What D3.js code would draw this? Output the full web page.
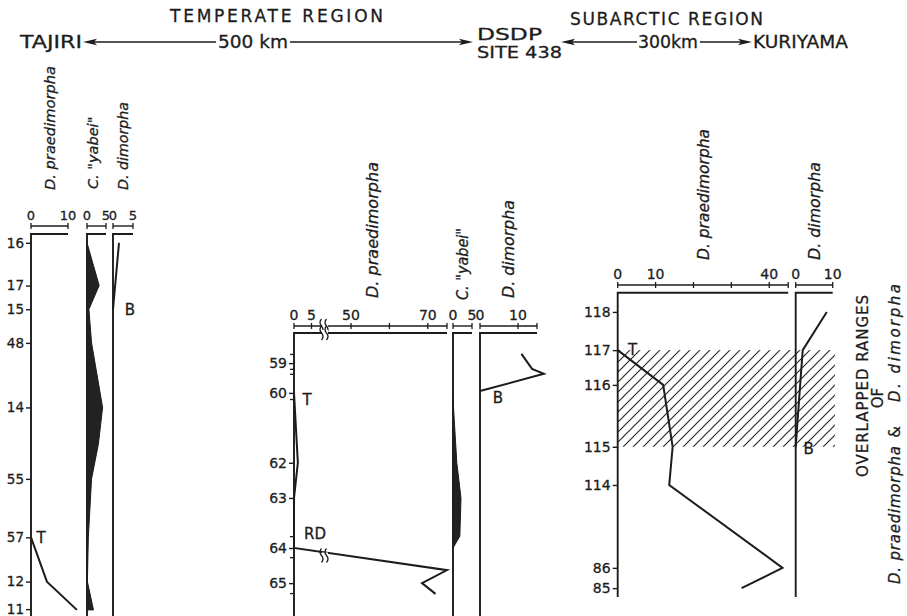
<!DOCTYPE html>
<html lang="en">
<head>
<meta charset="UTF-8">
<title>Overlapped ranges of D. praedimorpha and D. dimorpha</title>
<script src="https://cdnjs.cloudflare.com/ajax/libs/d3/7.8.5/d3.min.js"></script>
<style>
  body { margin: 0; background: #fff; }
  svg { display: block; }
  text { font-family: "DejaVu Sans", sans-serif; fill: #1c1c1c; stroke: #1c1c1c; stroke-width: 0.3px; }
  .sp { font-style: italic; }
</style>
</head>
<body>
<div id="chart"></div>
<script>
// stratigraphic position of each sample, 0 = top of column, 100 = bottom of figure
// Tajiri section (temperate region)
const tajiriSamples = ["16", "17", "15", "48", "14", "55", "57", "12", "11"];
const tajiriLevels = [2.3, 13.5, 19.7, 28.5, 45.4, 64.1, 79.4, 91.0, 98.2];
const tajiriPraedimorpha = [[79.4, 0], [91.0, 4.3], [98.4, 12.4]];
const tajiriYabei = [[2.3, 0], [13.5, 3.2], [19.7, 0.5], [28.5, 1.2], [45.4, 4.1],
                     [55.0, 3.0], [64.1, 1.2], [79.4, 0.35], [91.0, 0.1], [98.4, 1.7]];
const tajiriDimorpha = [[2.3, 1.5], [19.7, 0]];

// DSDP Site 438
const dsdpSamples = ["59", "60", "62", "63", "64", "65"];
const dsdpLevels = [33.8, 41.6, 59.9, 69.1, 82.2, 91.4];
const dsdpMinorLevels = [31.4, 35.3, 36.6, 43.2, 79.1, 84.6, 94.0];
const dsdpPraedimorpha = [[41.6, 0], [59.9, 1.1], [69.1, 0], [82.2, 0], [88.0, 75], [91.4, 68.5], [94.2, 72]];
const dsdpYabei = [[43.2, 0], [59.9, 1.0], [69.1, 2.1], [79.1, 1.8], [82.2, 0]];
const dsdpDimorpha = [[31.4, 10.9], [35.3, 13.7], [36.6, 16.8], [41.1, 0]];

// Kuriyama section (subarctic region)
const kuriSamples = ["118", "117", "116", "115", "114", "86", "85"];
const kuriLevels = [20.4, 30.4, 39.5, 55.7, 65.7, 87.4, 92.7];
const kuriPraedimorpha = [[30.4, 0], [39.5, 12.0], [55.7, 14.5], [65.7, 13.6], [87.4, 43.5], [92.7, 32.7]];
const kuriDimorpha = [[20.4, 8.4], [30.4, 1.9], [39.5, 1.2], [55.7, 0]];
const overlapRange = [30.4, 55.7];

const ink = "#1c1c1c";
const width = 907, height = 616;

const svg = d3.select("#chart").append("svg")
    .attr("width", width)
    .attr("height", height);
svg.append("rect").attr("width", width).attr("height", height).attr("fill", "#fff");

const y = d3.scaleLinear().domain([0, 100]).range([234, 616]);

svg.append("defs").append("pattern")
    .attr("id", "hatch")
    .attr("patternUnits", "userSpaceOnUse")
    .attr("width", 10).attr("height", 10)
    .append("path")
    .attr("d", "M-1,1 l2,-2 M0,10 l10,-10 M9,11 l2,-2")
    .attr("stroke", "#2a2a2a").attr("stroke-width", 1.2);

// ---- header ----
function label(txt, x, yy, size, len, adjust) {
    const t = svg.append("text").attr("x", x).attr("y", yy).attr("font-size", size).text(txt);
    if (len) t.attr("textLength", len).attr("lengthAdjust", adjust || "spacingAndGlyphs");
    return t;
}
function arrow(xFrom, xTo, yy) {
    const dir = xTo > xFrom ? 1 : -1;
    svg.append("line").attr("x1", xFrom).attr("x2", xTo - dir * 4).attr("y1", yy).attr("y2", yy)
        .attr("stroke", ink).attr("stroke-width", 1.6);
    svg.append("path")
        .attr("d", `M${xTo},${yy}L${xTo - dir * 14},${yy - 3.2}L${xTo - dir * 11},${yy}L${xTo - dir * 14},${yy + 3.2}Z`)
        .attr("fill", ink);
}
label("TEMPERATE REGION", 170, 22, 17, 213, "spacing");
label("SUBARCTIC REGION", 570, 25, 17, 193, "spacing");
label("TAJIRI", 20, 48, 17.5, 62);
label("500 km", 218, 48, 17.5, 70);
label("DSDP", 477, 40, 16.5, 65);
label("SITE 438", 477, 58, 16.5, 85);
label("300km", 638, 48, 17.5, 60);
label("KURIYAMA", 753, 48, 17.5, 95);
arrow(216, 83, 42);
arrow(290, 473, 42);
arrow(637, 561, 42);
arrow(700, 752, 42);

// ---- columns ----
function breakMark(g, cx, cy) {
    g.append("rect").attr("x", cx - 3).attr("y", cy - 3).attr("width", 6).attr("height", 6).attr("fill", "#fff");
    [-2.5, 2.5].forEach(off => {
        g.append("path")
            .attr("d", `M${cx + off - 1},${cy - 7} q-3,3.5 0,7 q3,3.5 0,7`)
            .attr("fill", "none").attr("stroke", ink).attr("stroke-width", 1.3);
    });
}

function column(c) {
    const x = d3.scaleLinear().domain(c.domain).range(c.range);
    const g = svg.append("g");
    const x0 = x(0), x1 = x(c.end);

    // scale bar
    g.append("line").attr("x1", x0).attr("x2", x1).attr("y1", c.barY).attr("y2", c.barY)
        .attr("stroke", ink).attr("stroke-width", 1.4);
    g.selectAll("line.tk").data(c.ticks).join("line").attr("class", "tk")
        .attr("x1", d => x(d)).attr("x2", d => x(d))
        .attr("y1", c.barY - 3).attr("y2", c.barY + 3)
        .attr("stroke", ink).attr("stroke-width", 1.3);
    g.selectAll("text.tl").data(c.labels).join("text").attr("class", "tl")
        .attr("x", d => x(d)).attr("y", c.barY - 6)
        .attr("text-anchor", "middle").attr("font-size", c.fs)
        .text(d => d);

    // header line and vertical base line
    g.append("path").attr("d", `M${x1},${c.headY}H${x0}V${y(c.bottom)}`)
        .attr("fill", "none").attr("stroke", ink).attr("stroke-width", 1.9);

    // rotated species title
    const t = g.append("text").attr("class", "sp")
        .attr("transform", `translate(${c.titleX != null ? c.titleX : (x0 + x1) / 2},${c.titleY}) rotate(-90)`)
        .attr("dy", "0.35em").attr("font-size", c.titleSize)
        .text(c.title);
    if (c.titleLen) t.attr("textLength", c.titleLen).attr("lengthAdjust", "spacingAndGlyphs");

    // abundance
    if (c.area) {
        g.append("path").datum(c.data)
            .attr("d", d3.area().y(d => y(d[0])).x0(x0).x1(d => x(d[1])))
            .attr("fill", "#222").attr("stroke", ink).attr("stroke-width", 1);
    } else {
        g.append("path").datum(c.data)
            .attr("d", d3.line().x(d => x(d[1])).y(d => y(d[0])))
            .attr("fill", "none").attr("stroke", ink).attr("stroke-width", 2)
            .attr("stroke-linejoin", "miter");
    }

    if (c.breakX) {
        breakMark(g, c.breakX, c.barY);
        breakMark(g, c.breakX, c.headY);
        // where the data line crosses the break
        for (let i = 1; i < c.data.length; i++) {
            const xa = x(c.data[i - 1][1]), xb = x(c.data[i][1]);
            if ((xa - c.breakX) * (xb - c.breakX) < 0) {
                const f = (c.breakX - xa) / (xb - xa);
                const yy = y(c.data[i - 1][0]) + f * (y(c.data[i][0]) - y(c.data[i - 1][0]));
                breakMark(g, c.breakX, yy + 3);
            }
        }
    }
    return x;
}

function sampleAxis(xPos, samples, levels, minor, fs) {
    const g = svg.append("g").attr("transform", `translate(${xPos},0)`)
        .call(d3.axisLeft(y).tickValues(levels).tickFormat((d, i) => samples[i]).tickSize(5).tickPadding(2));
    g.select(".domain").remove();
    g.attr("font-size", fs);
    g.selectAll("line").attr("stroke", ink).attr("stroke-width", 1.4);
    if (minor.length) {
        const m = svg.append("g").attr("transform", `translate(${xPos},0)`)
            .call(d3.axisLeft(y).tickValues(minor).tickFormat("").tickSize(4));
        m.select(".domain").remove();
        m.selectAll("line").attr("stroke", ink).attr("stroke-width", 1.3);
    }
}

function marker(txt, x, yy, size) {
    svg.append("text").attr("x", x).attr("y", yy).attr("dy", "0.35em")
        .attr("text-anchor", "middle").attr("font-size", size).text(txt);
}

// Tajiri
const tP = column({ domain: [0, 10], range: [31, 68], end: 10, ticks: [0, 10], labels: [0, 10], fs: 13,
    barY: 226, headY: 234, bottom: 100, title: "D. praedimorpha", titleY: 190, titleSize: 14.5, titleLen: 124,
    data: tajiriPraedimorpha });
column({ domain: [0, 5], range: [87, 106], end: 5, ticks: [0, 5], labels: [0, 5], fs: 13,
    barY: 226, headY: 234, bottom: 100, title: "C. \"yabei\"", titleX: 93, titleY: 189, titleSize: 14.5,
    data: tajiriYabei, area: true });
const tD = column({ domain: [0, 5], range: [113, 133], end: 5, ticks: [0, 5], labels: [0, 5], fs: 13,
    barY: 226, headY: 234, bottom: 100, title: "D. dimorpha", titleY: 190, titleSize: 14.5, titleLen: 88,
    data: tajiriDimorpha });
sampleAxis(tP(0), tajiriSamples, tajiriLevels, [], 13.5);
marker("T", tP(0) + 10, y(79.4), 15);
marker("B", tD(0) + 17, y(19.7), 15);

// DSDP Site 438
const dP = column({ domain: [0, 5, 50, 75], range: [294, 311.5, 351, 447], end: 75, ticks: [0, 5, 50, 60, 70, 75],
    labels: [0, 5, 50, 70], fs: 14, barY: 326, headY: 333, bottom: 100, breakX: 325,
    title: "D. praedimorpha", titleX: 372, titleY: 298, titleSize: 16, titleLen: 136,
    data: dsdpPraedimorpha });
column({ domain: [0, 5], range: [453, 472], end: 5, ticks: [0, 5], labels: [0, 5], fs: 14,
    barY: 326, headY: 333, bottom: 100, title: "C. \"yabei\"", titleY: 300, titleSize: 16, titleLen: 72,
    data: dsdpYabei, area: true });
const dD = column({ domain: [0, 15], range: [480, 537], end: 15, ticks: [0, 10, 15], labels: [0, 10], fs: 14,
    barY: 326, headY: 333, bottom: 100, title: "D. dimorpha", titleY: 298, titleSize: 16, titleLen: 98,
    data: dsdpDimorpha });
sampleAxis(dP(0), dsdpSamples, dsdpLevels, dsdpMinorLevels, 14);
marker("T", dP(0) + 13, y(41.6) + 7, 15);
marker("RD", dP(0) + 21, y(82.2) - 14, 15);
marker("B", dD(0) + 18, y(41.1) + 7, 15);

// Kuriyama - hatched overlap first so lines sit on top
const kP0 = d3.scaleLinear().domain([0, 45]).range([617.7, 788.2]);
const kD0 = d3.scaleLinear().domain([0, 10]).range([795.7, 832.7]);
svg.append("rect")
    .attr("x", kP0(0)).attr("y", y(overlapRange[0]))
    .attr("width", kD0(10.6) - kP0(0)).attr("height", y(overlapRange[1]) - y(overlapRange[0]))
    .attr("fill", "url(#hatch)");
const kP = column({ domain: [0, 45], range: [617.7, 788.2], end: 45, ticks: [0, 10, 20, 30, 40, 45],
    labels: [0, 10, 40], fs: 14, barY: 285, headY: 292.7, bottom: 95,
    title: "D. praedimorpha", titleY: 260, titleSize: 16, titleLen: 131,
    data: kuriPraedimorpha });
const kD = column({ domain: [0, 10], range: [795.7, 832.7], end: 10, ticks: [0, 10], labels: [0, 10], fs: 14,
    barY: 285, headY: 292.7, bottom: 95, title: "D. dimorpha", titleY: 260, titleSize: 16, titleLen: 98,
    data: kuriDimorpha });
sampleAxis(kP(0), kuriSamples, kuriLevels, [], 14);
marker("T", kP(0) + 15, y(30.4), 15);
marker("B", kD(0) + 13, y(55.7) + 2, 15);

// note on the right
function vtext(txt, x, yy, size, len, italic) {
    const t = svg.append("text")
        .attr("transform", `translate(${x},${yy}) rotate(-90)`)
        .attr("text-anchor", "middle").attr("dy", "0.35em")
        .attr("font-size", size).text(txt);
    if (italic) t.attr("class", "sp");
    if (len) t.attr("textLength", len).attr("lengthAdjust", "spacing");
}
vtext("OVERLAPPED RANGES", 863, 386, 15, 182);
vtext("OF", 878, 398, 15);
vtext("D. praedimorpha", 895, 515, 15, 138, true);
vtext("&", 895, 432, 15, null, false);
vtext("D. dimorpha", 895, 343, 15, 118, true);
</script>
</body>
</html>
